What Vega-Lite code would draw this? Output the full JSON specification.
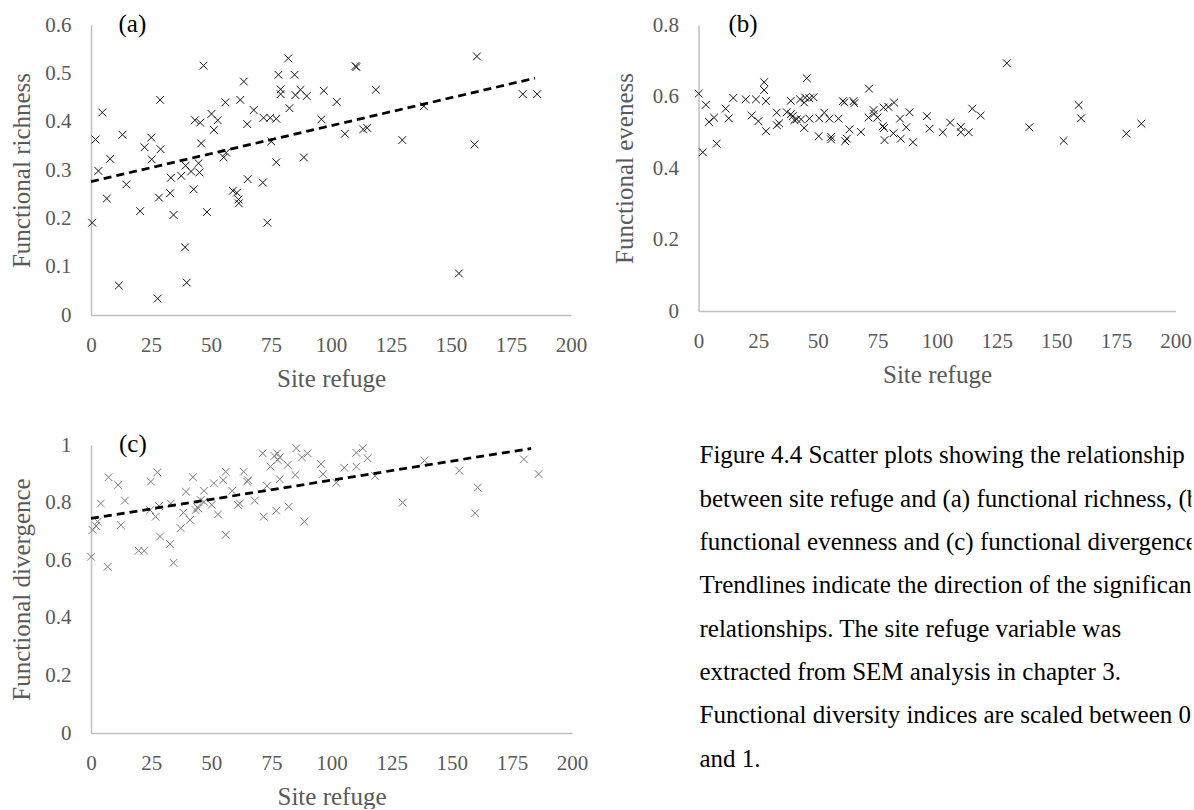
{
  "$schema": "https://vega.github.io/schema/vega-lite/v6.json",
  "background": "white",
  "padding": {"left": 9, "top": 12, "right": 0, "bottom": 0},
  "columns": 2,
  "bounds": "flush",
  "spacing": {"column": 126.5, "row": 130},
  "config": {
    "view": {"stroke": null},
    "font": "Liberation Serif",
    "axis": {
      "domainColor": "#bfbfbf",
      "domainWidth": 1.5,
      "grid": false,
      "ticks": false,
      "tickSize": 0,
      "labelFlush": false,
      "labelOverlap": false,
      "labelFont": "Liberation Serif",
      "labelFontSize": 21,
      "labelColor": "#595959",
      "titleFont": "Liberation Serif",
      "titleFontSize": 25,
      "titleFontWeight": "normal",
      "titleColor": "#595959"
    },
    "axisX": {"labelPadding": 19, "titlePadding": 11},
    "axisY": {"labelPadding": 20, "titlePadding": 10},
    "title": {
      "font": "Liberation Serif",
      "fontSize": 25,
      "fontWeight": "normal",
      "color": "#000000",
      "anchor": "start",
      "frame": "group",
      "offset": 0,
      "baseline": "alphabetic"
    }
  },
  "datasets": {
    "richness": [
      {"refuge": 0.5, "richness": 0.191}, {"refuge": 1.9, "richness": 0.363}, {"refuge": 3.1, "richness": 0.298},
      {"refuge": 4.7, "richness": 0.419}, {"refuge": 6.6, "richness": 0.241}, {"refuge": 8.0, "richness": 0.323},
      {"refuge": 11.6, "richness": 0.061}, {"refuge": 13.1, "richness": 0.373}, {"refuge": 14.7, "richness": 0.270},
      {"refuge": 20.5, "richness": 0.215}, {"refuge": 22.3, "richness": 0.347}, {"refuge": 25.1, "richness": 0.367},
      {"refuge": 25.3, "richness": 0.322}, {"refuge": 27.8, "richness": 0.034}, {"refuge": 28.3, "richness": 0.243},
      {"refuge": 28.8, "richness": 0.445}, {"refuge": 29.0, "richness": 0.343}, {"refuge": 33.3, "richness": 0.284},
      {"refuge": 33.0, "richness": 0.252}, {"refuge": 34.4, "richness": 0.207}, {"refuge": 37.6, "richness": 0.288},
      {"refuge": 39.2, "richness": 0.140}, {"refuge": 39.9, "richness": 0.067}, {"refuge": 39.4, "richness": 0.309},
      {"refuge": 41.7, "richness": 0.297}, {"refuge": 42.8, "richness": 0.260}, {"refuge": 43.3, "richness": 0.403},
      {"refuge": 44.8, "richness": 0.314}, {"refuge": 45.2, "richness": 0.295}, {"refuge": 45.5, "richness": 0.398},
      {"refuge": 45.9, "richness": 0.355}, {"refuge": 46.9, "richness": 0.516}, {"refuge": 48.3, "richness": 0.213},
      {"refuge": 50.2, "richness": 0.416}, {"refuge": 51.2, "richness": 0.383}, {"refuge": 52.8, "richness": 0.403},
      {"refuge": 55.3, "richness": 0.326}, {"refuge": 56.3, "richness": 0.336}, {"refuge": 56.0, "richness": 0.440},
      {"refuge": 59.1, "richness": 0.257}, {"refuge": 60.8, "richness": 0.253}, {"refuge": 61.5, "richness": 0.239},
      {"refuge": 61.6, "richness": 0.231}, {"refuge": 62.2, "richness": 0.445}, {"refuge": 63.7, "richness": 0.483},
      {"refuge": 65.1, "richness": 0.395}, {"refuge": 65.3, "richness": 0.281}, {"refuge": 67.8, "richness": 0.424},
      {"refuge": 71.6, "richness": 0.274}, {"refuge": 71.9, "richness": 0.408}, {"refuge": 73.5, "richness": 0.191},
      {"refuge": 74.7, "richness": 0.408}, {"refuge": 75.1, "richness": 0.359}, {"refuge": 77.2, "richness": 0.406},
      {"refuge": 77.2, "richness": 0.316}, {"refuge": 78.1, "richness": 0.497}, {"refuge": 79.0, "richness": 0.467},
      {"refuge": 79.0, "richness": 0.457}, {"refuge": 82.2, "richness": 0.531}, {"refuge": 82.7, "richness": 0.428},
      {"refuge": 84.8, "richness": 0.497}, {"refuge": 85.2, "richness": 0.455}, {"refuge": 87.3, "richness": 0.466},
      {"refuge": 88.7, "richness": 0.326}, {"refuge": 89.9, "richness": 0.453}, {"refuge": 96.0, "richness": 0.405},
      {"refuge": 97.0, "richness": 0.464}, {"refuge": 102.4, "richness": 0.441}, {"refuge": 105.8, "richness": 0.375},
      {"refuge": 110.2, "richness": 0.515}, {"refuge": 110.6, "richness": 0.513}, {"refuge": 113.4, "richness": 0.384},
      {"refuge": 115.1, "richness": 0.387}, {"refuge": 118.7, "richness": 0.466}, {"refuge": 129.7, "richness": 0.362},
      {"refuge": 138.7, "richness": 0.432}, {"refuge": 153.3, "richness": 0.086}, {"refuge": 159.8, "richness": 0.353},
      {"refuge": 160.8, "richness": 0.535}, {"refuge": 179.9, "richness": 0.457}, {"refuge": 185.9, "richness": 0.457}
    ],
    "richness_trend": [
      {"refuge": 0, "richness": 0.276}, {"refuge": 185, "richness": 0.49}
    ],
    "evenness": [
      {"refuge": 0.1, "evenness": 0.608}, {"refuge": 1.8, "evenness": 0.444}, {"refuge": 3.1, "evenness": 0.577},
      {"refuge": 4.4, "evenness": 0.529}, {"refuge": 6.5, "evenness": 0.541}, {"refuge": 7.6, "evenness": 0.468},
      {"refuge": 11.4, "evenness": 0.566}, {"refuge": 12.7, "evenness": 0.539}, {"refuge": 14.6, "evenness": 0.596},
      {"refuge": 19.8, "evenness": 0.592}, {"refuge": 22.3, "evenness": 0.547}, {"refuge": 24.1, "evenness": 0.592},
      {"refuge": 25.1, "evenness": 0.531}, {"refuge": 27.5, "evenness": 0.640}, {"refuge": 27.5, "evenness": 0.618},
      {"refuge": 28.3, "evenness": 0.587}, {"refuge": 28.3, "evenness": 0.503}, {"refuge": 32.8, "evenness": 0.555},
      {"refuge": 32.8, "evenness": 0.520}, {"refuge": 33.8, "evenness": 0.525}, {"refuge": 37.0, "evenness": 0.556},
      {"refuge": 38.7, "evenness": 0.588}, {"refuge": 38.7, "evenness": 0.550}, {"refuge": 39.5, "evenness": 0.545},
      {"refuge": 40.2, "evenness": 0.534}, {"refuge": 41.2, "evenness": 0.536}, {"refuge": 42.6, "evenness": 0.592},
      {"refuge": 43.0, "evenness": 0.536}, {"refuge": 44.3, "evenness": 0.583}, {"refuge": 44.7, "evenness": 0.597},
      {"refuge": 44.3, "evenness": 0.512}, {"refuge": 45.4, "evenness": 0.651}, {"refuge": 46.5, "evenness": 0.595},
      {"refuge": 48.2, "evenness": 0.598}, {"refuge": 46.5, "evenness": 0.538}, {"refuge": 50.4, "evenness": 0.489},
      {"refuge": 50.6, "evenness": 0.539}, {"refuge": 52.7, "evenness": 0.555}, {"refuge": 54.9, "evenness": 0.538},
      {"refuge": 55.6, "evenness": 0.487}, {"refuge": 55.6, "evenness": 0.480}, {"refuge": 58.7, "evenness": 0.538},
      {"refuge": 60.5, "evenness": 0.587}, {"refuge": 61.2, "evenness": 0.584}, {"refuge": 61.5, "evenness": 0.475},
      {"refuge": 62.2, "evenness": 0.482}, {"refuge": 63.3, "evenness": 0.508}, {"refuge": 65.0, "evenness": 0.587},
      {"refuge": 65.3, "evenness": 0.581}, {"refuge": 68.1, "evenness": 0.501}, {"refuge": 71.5, "evenness": 0.622},
      {"refuge": 71.3, "evenness": 0.541}, {"refuge": 73.4, "evenness": 0.562}, {"refuge": 73.6, "evenness": 0.552},
      {"refuge": 75.0, "evenness": 0.541}, {"refuge": 77.6, "evenness": 0.569}, {"refuge": 77.3, "evenness": 0.517},
      {"refuge": 77.8, "evenness": 0.512}, {"refuge": 78.0, "evenness": 0.478}, {"refuge": 79.6, "evenness": 0.571},
      {"refuge": 82.0, "evenness": 0.583}, {"refuge": 81.7, "evenness": 0.497}, {"refuge": 84.5, "evenness": 0.538},
      {"refuge": 84.8, "evenness": 0.482}, {"refuge": 87.1, "evenness": 0.514}, {"refuge": 88.5, "evenness": 0.556},
      {"refuge": 89.9, "evenness": 0.472}, {"refuge": 95.8, "evenness": 0.545}, {"refuge": 96.9, "evenness": 0.510},
      {"refuge": 102.4, "evenness": 0.500}, {"refuge": 105.5, "evenness": 0.527}, {"refuge": 110.0, "evenness": 0.515},
      {"refuge": 110.0, "evenness": 0.500}, {"refuge": 113.3, "evenness": 0.500}, {"refuge": 114.8, "evenness": 0.566},
      {"refuge": 118.3, "evenness": 0.547}, {"refuge": 129.3, "evenness": 0.693}, {"refuge": 138.7, "evenness": 0.514},
      {"refuge": 153.1, "evenness": 0.476}, {"refuge": 159.4, "evenness": 0.576}, {"refuge": 160.4, "evenness": 0.539},
      {"refuge": 179.4, "evenness": 0.496}, {"refuge": 185.7, "evenness": 0.524}
    ],
    "divergence": [
      {"refuge": 0.0, "divergence": 0.612}, {"refuge": 0.7, "divergence": 0.705}, {"refuge": 2.1, "divergence": 0.719},
      {"refuge": 2.8, "divergence": 0.734}, {"refuge": 4.1, "divergence": 0.797}, {"refuge": 6.9, "divergence": 0.577},
      {"refuge": 7.3, "divergence": 0.888}, {"refuge": 11.3, "divergence": 0.861}, {"refuge": 12.4, "divergence": 0.722},
      {"refuge": 14.1, "divergence": 0.807}, {"refuge": 19.8, "divergence": 0.633}, {"refuge": 22.1, "divergence": 0.633},
      {"refuge": 24.6, "divergence": 0.774}, {"refuge": 24.9, "divergence": 0.873}, {"refuge": 27.6, "divergence": 0.905},
      {"refuge": 26.9, "divergence": 0.751}, {"refuge": 28.3, "divergence": 0.788}, {"refuge": 28.7, "divergence": 0.682},
      {"refuge": 32.9, "divergence": 0.656}, {"refuge": 33.2, "divergence": 0.797}, {"refuge": 34.3, "divergence": 0.591},
      {"refuge": 37.3, "divergence": 0.711}, {"refuge": 38.4, "divergence": 0.765}, {"refuge": 39.5, "divergence": 0.838},
      {"refuge": 41.2, "divergence": 0.740}, {"refuge": 42.4, "divergence": 0.888}, {"refuge": 43.5, "divergence": 0.774},
      {"refuge": 44.2, "divergence": 0.784}, {"refuge": 44.6, "divergence": 0.780}, {"refuge": 45.6, "divergence": 0.809},
      {"refuge": 47.0, "divergence": 0.841}, {"refuge": 47.0, "divergence": 0.803}, {"refuge": 50.2, "divergence": 0.792},
      {"refuge": 51.1, "divergence": 0.867}, {"refuge": 52.8, "divergence": 0.759}, {"refuge": 55.0, "divergence": 0.878},
      {"refuge": 56.0, "divergence": 0.907}, {"refuge": 56.0, "divergence": 0.688}, {"refuge": 58.7, "divergence": 0.841},
      {"refuge": 61.1, "divergence": 0.792}, {"refuge": 61.9, "divergence": 0.797}, {"refuge": 63.5, "divergence": 0.907},
      {"refuge": 64.9, "divergence": 0.873}, {"refuge": 65.4, "divergence": 0.878}, {"refuge": 68.1, "divergence": 0.807},
      {"refuge": 71.8, "divergence": 0.751}, {"refuge": 71.4, "divergence": 0.971}, {"refuge": 73.2, "divergence": 0.858},
      {"refuge": 74.6, "divergence": 0.925}, {"refuge": 76.3, "divergence": 0.962}, {"refuge": 77.4, "divergence": 0.971},
      {"refuge": 78.5, "divergence": 0.957}, {"refuge": 77.6, "divergence": 0.948}, {"refuge": 77.0, "divergence": 0.772},
      {"refuge": 78.5, "divergence": 0.881}, {"refuge": 82.2, "divergence": 0.786}, {"refuge": 81.8, "divergence": 0.931},
      {"refuge": 85.4, "divergence": 0.989}, {"refuge": 85.0, "divergence": 0.896}, {"refuge": 87.7, "divergence": 0.957},
      {"refuge": 90.1, "divergence": 0.971}, {"refuge": 88.7, "divergence": 0.734}, {"refuge": 95.6, "divergence": 0.934},
      {"refuge": 96.5, "divergence": 0.899}, {"refuge": 102.0, "divergence": 0.869}, {"refuge": 105.3, "divergence": 0.921},
      {"refuge": 110.3, "divergence": 0.925}, {"refuge": 110.3, "divergence": 0.973}, {"refuge": 113.0, "divergence": 0.989},
      {"refuge": 115.0, "divergence": 0.954}, {"refuge": 118.1, "divergence": 0.893}, {"refuge": 129.6, "divergence": 0.800},
      {"refuge": 138.6, "divergence": 0.946}, {"refuge": 153.1, "divergence": 0.911}, {"refuge": 160.8, "divergence": 0.852},
      {"refuge": 159.7, "divergence": 0.763}, {"refuge": 180.0, "divergence": 0.950}, {"refuge": 186.1, "divergence": 0.899}
    ],
    "divergence_trend": [
      {"refuge": 0, "divergence": 0.745}, {"refuge": 183, "divergence": 0.988}
    ],
    "caption": [
      {"line": 1, "text": "Figure 4.4 Scatter plots showing the relationship"},
      {"line": 2, "text": "between site refuge and (a) functional richness, (b)"},
      {"line": 3, "text": "functional evenness and (c) functional divergence."},
      {"line": 4, "text": "Trendlines indicate the direction of the significant"},
      {"line": 5, "text": "relationships. The site refuge variable was"},
      {"line": 6, "text": "extracted from SEM analysis in chapter 3."},
      {"line": 7, "text": "Functional diversity indices are scaled between 0"},
      {"line": 8, "text": "and 1."}
    ]
  },
  "concat": [
    {
      "title": {"text": "(a)", "dx": 27.5, "dy": 27},
      "width": 480,
      "height": 290,
      "layer": [
        {
          "data": {"name": "richness"},
          "mark": {"type": "point", "shape": "M-1,-1L1,1M-1,1L1,-1", "filled": false, "size": 60, "strokeWidth": 1, "color": "#111111", "opacity": 1},
          "encoding": {
            "x": {"field": "refuge", "type": "quantitative", "scale": {"domain": [0, 200], "nice": false},
                  "axis": {"title": "Site refuge", "values": [0, 25, 50, 75, 100, 125, 150, 175, 200], "format": "d"}},
            "y": {"field": "richness", "type": "quantitative", "scale": {"domain": [0, 0.6], "nice": false},
                  "axis": {"title": "Functional richness", "values": [0, 0.1, 0.2, 0.3, 0.4, 0.5, 0.6], "format": "~g"}}
          }
        },
        {
          "data": {"name": "richness_trend"},
          "mark": {"type": "line", "strokeDash": [8, 5], "strokeWidth": 2.75, "color": "#000000"},
          "encoding": {
            "x": {"field": "refuge", "type": "quantitative"},
            "y": {"field": "richness", "type": "quantitative"}
          }
        }
      ]
    },
    {
      "title": {"text": "(b)", "dx": 30, "dy": 27},
      "width": 477,
      "height": 286,
      "data": {"name": "evenness"},
      "mark": {"type": "point", "shape": "M-1,-1L1,1M-1,1L1,-1", "filled": false, "size": 60, "strokeWidth": 1, "color": "#111111", "opacity": 1},
      "encoding": {
        "x": {"field": "refuge", "type": "quantitative", "scale": {"domain": [0, 200], "nice": false},
              "axis": {"title": "Site refuge", "values": [0, 25, 50, 75, 100, 125, 150, 175, 200], "format": "d"}},
        "y": {"field": "evenness", "type": "quantitative", "scale": {"domain": [0, 0.8], "nice": false},
              "axis": {"title": "Functional eveness", "titlePadding": 15, "values": [0, 0.2, 0.4, 0.6, 0.8], "format": "~g"}}
      }
    },
    {
      "title": {"text": "(c)", "dx": 28, "dy": 27},
      "width": 481,
      "height": 288,
      "layer": [
        {
          "data": {"name": "divergence"},
          "mark": {"type": "point", "shape": "M-1,-1L1,1M-1,1L1,-1", "filled": false, "size": 60, "strokeWidth": 1, "color": "#7a7a7a", "opacity": 1},
          "encoding": {
            "x": {"field": "refuge", "type": "quantitative", "scale": {"domain": [0, 200], "nice": false},
                  "axis": {"title": "Site refuge", "values": [0, 25, 50, 75, 100, 125, 150, 175, 200], "format": "d"}},
            "y": {"field": "divergence", "type": "quantitative", "scale": {"domain": [0, 1], "nice": false},
                  "axis": {"title": "Functional divergence", "values": [0, 0.2, 0.4, 0.6, 0.8, 1], "format": "~g"}}
          }
        },
        {
          "data": {"name": "divergence_trend"},
          "mark": {"type": "line", "strokeDash": [8, 5], "strokeWidth": 2.75, "color": "#000000"},
          "encoding": {
            "x": {"field": "refuge", "type": "quantitative"},
            "y": {"field": "divergence", "type": "quantitative"}
          }
        }
      ]
    },
    {
      "width": 493,
      "height": 340,
      "data": {"name": "caption"},
      "mark": {"type": "text", "align": "left", "baseline": "alphabetic", "font": "Liberation Serif", "fontSize": 25, "color": "#000000", "clip": true, "dx": 1},
      "encoding": {
        "x": {"value": 0},
        "y": {"field": "line", "type": "quantitative", "scale": {"domain": [0.578, 8.424], "reverse": true, "nice": false, "zero": false}, "axis": null},
        "text": {"field": "text"}
      }
    }
  ]
}
